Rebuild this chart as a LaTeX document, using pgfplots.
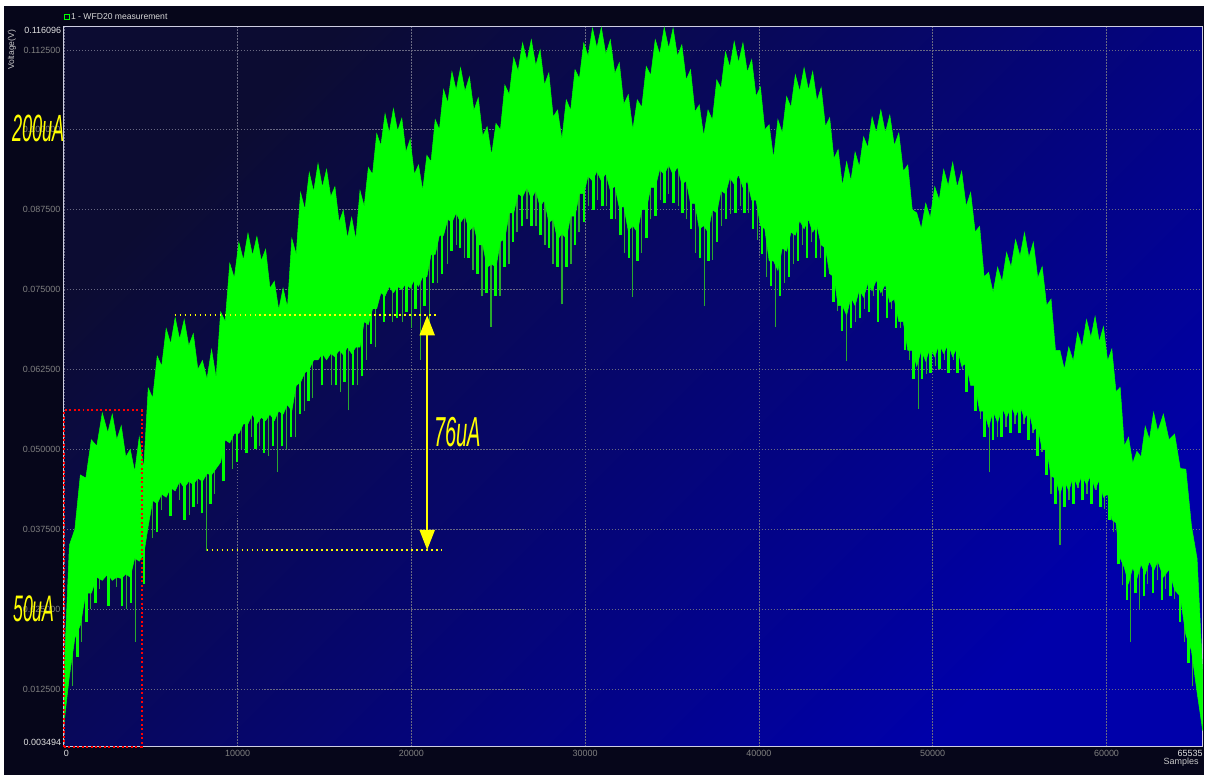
\documentclass[border=0pt]{standalone}
\usepackage{pgfplots}
\pgfplotsset{compat=1.18}
\usepackage{pgfplotstable}
\usetikzlibrary{arrows.meta}
\usepackage{fontspec}
\setmainfont{Liberation Sans}
\definecolor{outerbg}{RGB}{6,6,26}
\definecolor{bgTL}{RGB}{12,12,50}
\definecolor{bgBR}{RGB}{0,0,170}
\definecolor{sigc}{RGB}{0,255,0}
\definecolor{spkc}{RGB}{40,170,45}
\definecolor{gridc}{RGB}{105,105,130}
\definecolor{lbl}{RGB}{128,128,128}
\definecolor{lblw}{RGB}{225,225,225}
\definecolor{yel}{RGB}{255,255,0}
\definecolor{axc}{RGB}{205,205,225}

% signal band: upper edge left to right, then lower edge right to left
\pgfplotstableread{
x y
0 0.0141
316 0.0350
632 0.0375
948 0.0460
1264 0.0455
1580 0.0515
1895 0.0505
2211 0.0557
2527 0.0526
2786 0.0555
3044 0.0515
3303 0.0537
3561 0.0488
3820 0.0500
4078 0.0465
4337 0.0519
4595 0.0470
4854 0.0596
5112 0.0580
5371 0.0646
5629 0.0630
5888 0.0689
6146 0.0665
6405 0.0706
6663 0.0672
6925 0.0703
7187 0.0662
7449 0.0681
7711 0.0625
7974 0.0639
8236 0.0610
8498 0.0656
8760 0.0612
9022 0.0715
9284 0.0700
9546 0.0791
9808 0.0768
10070 0.0824
10332 0.0796
10594 0.0838
10856 0.0803
11107 0.0833
11359 0.0795
11610 0.0813
11861 0.0752
12112 0.0763
12364 0.0718
12615 0.0752
12866 0.0722
13117 0.0830
13369 0.0805
13620 0.0902
13871 0.0875
14122 0.0933
14374 0.0903
14625 0.0947
14876 0.0910
15117 0.0938
15357 0.0895
15598 0.0911
15838 0.0855
16079 0.0874
16319 0.0830
16560 0.0863
16800 0.0828
17041 0.0905
17281 0.0880
17522 0.0941
17762 0.0930
18003 0.0994
18243 0.0975
18484 0.1025
18724 0.0995
18965 0.1033
19205 0.0998
19446 0.1018
19686 0.0965
19927 0.0985
20168 0.0930
20408 0.0945
20649 0.0905
20889 0.0960
21130 0.0950
21370 0.1016
21611 0.1000
21851 0.1063
22092 0.1042
22332 0.1091
22573 0.1062
22828 0.1097
23083 0.1060
23338 0.1083
23593 0.1030
23847 0.1050
24102 0.0990
24357 0.1005
24612 0.0960
24867 0.1010
25122 0.1000
25377 0.1070
25632 0.1055
25886 0.1113
26141 0.1092
26396 0.1136
26651 0.1108
26902 0.1141
27154 0.1100
27405 0.1125
27656 0.1070
27907 0.1089
28159 0.1020
28410 0.1031
28661 0.0985
28912 0.1047
29164 0.1030
29415 0.1094
29666 0.1080
29917 0.1136
30169 0.1115
30420 0.1159
30671 0.1128
30930 0.1160
31188 0.1118
31447 0.1141
31705 0.1088
31964 0.1105
32222 0.1040
32481 0.1055
32739 0.1000
32998 0.1047
33256 0.1035
33515 0.1099
33773 0.1085
34032 0.1141
34290 0.1118
34549 0.1160
34807 0.1127
35058 0.1159
35310 0.1115
35561 0.1133
35812 0.1078
36063 0.1094
36315 0.1028
36566 0.1039
36817 0.0990
37068 0.1031
37320 0.1015
37571 0.1078
37822 0.1065
38073 0.1122
38325 0.1098
38576 0.1138
38827 0.1105
39078 0.1136
39330 0.1090
39581 0.1110
39832 0.1052
40084 0.1067
40335 0.1000
40587 0.1008
40838 0.0955
41089 0.1016
41341 0.0995
41592 0.1052
41843 0.1035
42094 0.1086
42346 0.1060
42597 0.1097
42848 0.1062
43092 0.1091
43336 0.1045
43580 0.1066
43824 0.1005
44069 0.1019
44313 0.0955
44557 0.0969
44801 0.0912
45045 0.0950
45289 0.0920
45533 0.0965
45777 0.0942
46022 0.0989
46266 0.0972
46510 0.1020
46754 0.0995
47013 0.1031
47271 0.0995
47530 0.1023
47788 0.0975
48047 0.0995
48305 0.0935
48564 0.0945
48822 0.0875
49080 0.0870
49339 0.0845
49597 0.0885
49856 0.0862
50114 0.0911
50372 0.0890
50631 0.0938
50889 0.0912
51148 0.0949
51406 0.0910
51665 0.0935
51923 0.0880
52182 0.0902
52440 0.0840
52699 0.0849
52957 0.0770
53216 0.0777
53474 0.0745
53733 0.0785
53991 0.0762
54250 0.0808
54508 0.0785
54767 0.0828
55025 0.0802
55280 0.0839
55535 0.0800
55790 0.0824
56045 0.0768
56299 0.0786
56554 0.0725
56809 0.0735
57064 0.0655
57319 0.0655
57574 0.0625
57829 0.0660
58084 0.0638
58338 0.0683
58593 0.0660
58848 0.0703
59103 0.0675
59344 0.0708
59584 0.0668
59825 0.0692
60065 0.0638
60306 0.0657
60546 0.0590
60787 0.0597
61027 0.0505
61268 0.0519
61508 0.0478
61749 0.0497
61989 0.0488
62230 0.0536
62470 0.0515
62711 0.0558
62951 0.0528
63274 0.0555
63597 0.0515
63920 0.0524
64243 0.0470
64566 0.0469
64889 0.0380
65212 0.0329
65535 0.0150
65535 0.0060
65212 0.0120
64889 0.0185
64566 0.0210
64243 0.0270
63920 0.0280
63597 0.0312
63274 0.0300
62951 0.0325
62711 0.0310
62470 0.0325
62230 0.0305
61989 0.0320
61749 0.0298
61508 0.0315
61268 0.0290
61027 0.0315
60787 0.0330
60546 0.0385
60306 0.0390
60065 0.0430
59825 0.0425
59584 0.0452
59344 0.0438
59103 0.0460
58848 0.0445
58593 0.0460
58338 0.0442
58084 0.0458
57829 0.0435
57574 0.0452
57319 0.0430
57064 0.0455
56809 0.0458
56554 0.0500
56299 0.0500
56045 0.0535
55790 0.0530
55535 0.0560
55280 0.0548
55025 0.0568
54767 0.0552
54508 0.0568
54250 0.0550
53991 0.0565
53733 0.0542
53474 0.0560
53216 0.0535
52957 0.0560
52699 0.0560
52440 0.0600
52182 0.0600
51923 0.0635
51665 0.0630
51406 0.0660
51148 0.0645
50889 0.0665
50631 0.0650
50372 0.0665
50114 0.0645
49856 0.0660
49597 0.0638
49339 0.0655
49080 0.0630
48822 0.0655
48564 0.0655
48305 0.0700
48047 0.0700
47788 0.0735
47530 0.0730
47271 0.0758
47013 0.0745
46754 0.0765
46510 0.0748
46266 0.0760
46022 0.0738
45777 0.0750
45533 0.0725
45289 0.0738
45045 0.0710
44801 0.0725
44557 0.0725
44313 0.0770
44069 0.0775
43824 0.0815
43580 0.0820
43336 0.0850
43092 0.0840
42848 0.0860
42597 0.0845
42346 0.0858
42094 0.0835
41843 0.0840
41592 0.0810
41341 0.0815
41089 0.0780
40838 0.0795
40587 0.0795
40335 0.0845
40084 0.0850
39832 0.0890
39581 0.0890
39330 0.0920
39078 0.0910
38827 0.0930
38576 0.0915
38325 0.0925
38073 0.0900
37822 0.0905
37571 0.0870
37320 0.0875
37068 0.0840
36817 0.0850
36566 0.0845
36315 0.0885
36063 0.0885
35812 0.0920
35561 0.0915
35310 0.0942
35058 0.0930
34807 0.0945
34549 0.0930
34290 0.0938
34032 0.0910
33773 0.0910
33515 0.0875
33256 0.0875
32998 0.0840
32739 0.0850
32481 0.0842
32222 0.0880
31964 0.0878
31705 0.0912
31447 0.0905
31188 0.0932
30930 0.0920
30671 0.0935
30420 0.0920
30169 0.0928
29917 0.0900
29666 0.0900
29415 0.0865
29164 0.0865
28912 0.0830
28661 0.0838
28410 0.0828
28159 0.0860
27907 0.0855
27656 0.0890
27405 0.0880
27154 0.0905
26902 0.0892
26651 0.0910
26396 0.0895
26141 0.0900
25886 0.0870
25632 0.0870
25377 0.0830
25122 0.0825
24867 0.0785
24612 0.0790
24357 0.0785
24102 0.0820
23847 0.0820
23593 0.0850
23338 0.0842
23083 0.0865
22828 0.0855
22573 0.0870
22332 0.0855
22092 0.0860
21851 0.0835
21611 0.0835
21370 0.0805
21130 0.0805
20889 0.0770
20649 0.0770
20408 0.0755
20168 0.0765
19927 0.0752
19686 0.0760
19446 0.0750
19205 0.0755
18965 0.0745
18724 0.0755
18484 0.0740
18243 0.0745
18003 0.0720
17762 0.0720
17522 0.0695
17281 0.0700
17041 0.0660
16800 0.0660
16560 0.0650
16319 0.0660
16079 0.0648
15838 0.0655
15598 0.0645
15357 0.0650
15117 0.0640
14876 0.0650
14625 0.0640
14374 0.0640
14122 0.0625
13871 0.0620
13620 0.0605
13369 0.0600
13117 0.0560
12866 0.0570
12615 0.0555
12364 0.0560
12112 0.0545
11861 0.0555
11610 0.0545
11359 0.0550
11107 0.0540
10856 0.0555
10594 0.0540
10332 0.0540
10070 0.0525
9808 0.0525
9546 0.0510
9284 0.0515
9022 0.0480
8760 0.0470
8498 0.0460
8236 0.0462
7974 0.0450
7711 0.0455
7449 0.0445
7187 0.0450
6925 0.0440
6663 0.0450
6405 0.0435
6146 0.0440
5888 0.0425
5629 0.0430
5371 0.0415
5112 0.0420
4854 0.0380
4595 0.0335
4337 0.0325
4078 0.0330
3820 0.0300
3561 0.0305
3303 0.0298
3044 0.0300
2786 0.0295
2527 0.0305
2211 0.0295
1895 0.0300
1580 0.0275
1264 0.0275
948 0.0225
632 0.0205
316 0.0145
0 0.0070
}\sigpoly

% long thin downward spikes: x and lowest value
\pgfplotstableread{
x y
517 0.0130
1034 0.0199
1551 0.0250
2068 0.0282
3044 0.0285
3619 0.0250
4136 0.0199
5112 0.0361
5629 0.0405
6663 0.0420
7237 0.0397
7697 0.0415
8214 0.0341
8673 0.0430
9707 0.0470
10224 0.0500
10798 0.0520
11258 0.0505
11775 0.0490
12292 0.0464
12808 0.0500
13325 0.0520
13842 0.0560
14302 0.0580
15393 0.0600
15910 0.0590
16370 0.0561
16886 0.0600
17403 0.0640
17920 0.0660
18897 0.0700
19471 0.0700
19988 0.0690
20505 0.0640
21022 0.0700
21481 0.0760
22056 0.0790
22573 0.0820
23032 0.0800
23549 0.0780
24066 0.0740
24583 0.0692
25100 0.0740
25617 0.0790
26076 0.0840
26651 0.0860
27168 0.0850
27685 0.0820
28144 0.0790
28661 0.0727
29178 0.0790
29638 0.0840
30212 0.0880
30729 0.0890
31246 0.0880
31763 0.0860
32280 0.0808
32739 0.0739
33256 0.0808
33773 0.0860
34347 0.0890
34807 0.0900
35381 0.0880
35841 0.0860
36358 0.0808
36875 0.0724
37334 0.0797
37851 0.0850
38368 0.0869
38942 0.0880
39402 0.0870
39919 0.0828
40436 0.0770
40953 0.0692
41470 0.0760
41986 0.0790
42503 0.0820
43020 0.0825
43537 0.0800
44054 0.0774
44514 0.0716
45031 0.0638
45547 0.0700
46064 0.0720
46581 0.0740
47098 0.0740
47615 0.0720
48132 0.0690
48649 0.0640
49166 0.0563
49626 0.0618
50143 0.0630
50659 0.0640
51176 0.0640
51693 0.0625
52210 0.0600
52727 0.0548
53244 0.0464
53704 0.0520
54221 0.0535
54738 0.0540
55254 0.0540
55771 0.0525
56288 0.0496
56805 0.0430
57322 0.0350
57839 0.0420
58356 0.0440
58873 0.0430
59390 0.0437
59907 0.0407
60424 0.0371
60941 0.0287
61400 0.0199
61917 0.0250
62377 0.0290
62951 0.0295
63411 0.0282
63928 0.0266
64502 0.0199
64961 0.0129
}\spkdata

% short wide bright strands under the band: x and lowest value
\pgfplotstableread{
x y
776 0.0175
1292 0.0230
1810 0.0260
2556 0.0255
3331 0.0255
3877 0.0260
4624 0.0290
5370 0.0370
6146 0.0395
6950 0.0390
7467 0.0410
7955 0.0400
8443 0.0415
9190 0.0450
9965 0.0480
10511 0.0495
11028 0.0500
11516 0.0495
12033 0.0505
12550 0.0505
13066 0.0520
13583 0.0555
14072 0.0575
14847 0.0600
15651 0.0600
16140 0.0605
16628 0.0600
17144 0.0615
17661 0.0665
18408 0.0700
19184 0.0705
19729 0.0715
20246 0.0720
20763 0.0725
21251 0.0760
21768 0.0775
22314 0.0810
22802 0.0815
23290 0.0800
23807 0.0775
24324 0.0745
24841 0.0740
25358 0.0785
25846 0.0825
26363 0.0850
26909 0.0850
27426 0.0835
27914 0.0815
28402 0.0785
28919 0.0785
29408 0.0820
29925 0.0855
30470 0.0875
30987 0.0880
31504 0.0860
32021 0.0835
32509 0.0800
32997 0.0795
33514 0.0830
34060 0.0865
34577 0.0885
35094 0.0885
35611 0.0870
36099 0.0845
36616 0.0800
37104 0.0795
37592 0.0825
38109 0.0860
38655 0.0870
39172 0.0870
39660 0.0845
40177 0.0805
40694 0.0755
41211 0.0740
41728 0.0770
42244 0.0795
42761 0.0800
43278 0.0800
43795 0.0770
44284 0.0730
44772 0.0685
45289 0.0690
45805 0.0705
46322 0.0715
46839 0.0700
47356 0.0705
47873 0.0690
48390 0.0655
48907 0.0610
49396 0.0610
49884 0.0620
50401 0.0625
50917 0.0620
51434 0.0620
51951 0.0590
52468 0.0560
52985 0.0520
53474 0.0515
53962 0.0520
54479 0.0525
54996 0.0525
55512 0.0515
56029 0.0490
56546 0.0460
57063 0.0415
57580 0.0410
58097 0.0415
58614 0.0420
59131 0.0415
59648 0.0410
60165 0.0390
60682 0.0320
61170 0.0265
61658 0.0275
62147 0.0270
62664 0.0275
63181 0.0265
63670 0.0270
64215 0.0230
64731 0.0165
}\strdata

\begin{document}
\begin{tikzpicture}[x=1pt,y=1pt]
\fill[white] (0,0) rectangle (1206,776);
\fill[outerbg] (4,0) rectangle (1206,770);
\begin{axis}[
  at={(64pt,28pt)}, anchor=south west,
  scale only axis, width=1141pt, height=721pt,
  xmin=0, xmax=65535, ymin=0.003494, ymax=0.116096,
  axis background/.style={top color=bgTL, bottom color=bgBR, shading angle=45},
  axis line style={draw=axc, line width=1pt},
  scaled x ticks=false, scaled y ticks=false,
  xtick={0,10000,20000,30000,40000,50000,60000,65535},
  xticklabels={\rlap{\textcolor{lblw}{0}},10000,20000,30000,40000,50000,60000,\llap{\textcolor{lblw}{65535}}},
  ytick={0.0125,0.025,0.0375,0.05,0.0625,0.075,0.0875,0.1,0.1125},
  yticklabels={0.012500,0.025000,0.037500,0.050000,0.062500,0.075000,0.087500,0.100000,0.112500},
  major tick length=0pt,
  grid=major,
  grid style={draw=gridc, dash pattern=on 1.5pt off 1.5pt, line width=0.7pt},
  tick label style={font=\fontsize{9}{10}\selectfont, text=lbl},
  clip=false,
]
\addplot[spkc, line width=1.2pt, mark=none, quiver={u=0, v=0.015}] table[x=x,y=y]{\spkdata};
\addplot[sigc, line width=2.5pt, mark=none, quiver={u=0, v=0.008}] table[x=x,y=y]{\strdata};
\addplot[fill=sigc, draw=sigc, line width=0.5pt, mark=none] table[x=x,y=y]{\sigpoly};
% annotations
\draw[red, line width=2pt, dash pattern=on 2pt off 2.5pt] (axis cs:0,0.003494) rectangle (axis cs:4480,0.0561);
\draw[yel, line width=1.8pt, dash pattern=on 1.8pt off 3.2pt] (axis cs:6375,0.07096) -- (axis cs:21424,0.07096);
\draw[yel, line width=1.8pt, dash pattern=on 1.8pt off 3.2pt] (axis cs:8214,0.03426) -- (axis cs:21769,0.03426);
\draw[yel, line width=2pt, {Triangle[width=15pt,length=20pt]}-{Triangle[width=15pt,length=20pt]}] (axis cs:20907,0.03426) -- (axis cs:20907,0.07096);
\end{axis}
% texts around the plot
\node[anchor=north east, inner sep=0pt, text=lblw, font=\fontsize{9}{10}\selectfont] at (61.5,749) {0.116096};
\node[anchor=south east, inner sep=0pt, text=lblw, font=\fontsize{9}{10}\selectfont] at (61.5,29) {0.003494};
\node[rotate=90, inner sep=0pt, text={rgb,255:red,200;green,200;blue,200}, font=\fontsize{8.6}{10}\selectfont] at (12,726) {Voltage(V)};
\draw[sigc, line width=0.8pt] (64.5,756.5) rectangle (69.5,761.5);
\node[anchor=west, inner sep=0pt, text={rgb,255:red,215;green,215;blue,215}, font=\fontsize{8.6}{10}\selectfont] at (71,759) {1 - WFD20 measurement};
\node[anchor=east, inner sep=0pt, text={rgb,255:red,200;green,200;blue,200}, font=\fontsize{9}{10}\selectfont] at (1201,12) {Samples};
\node[anchor=base west, inner sep=0pt, text=yel] at (12,634) {\scalebox{0.48}[1]{\fontsize{38}{38}\selectfont\itshape 200uA}};
\node[anchor=base west, inner sep=0pt, text=yel] at (13,153) {\scalebox{0.48}[1]{\fontsize{37}{37}\selectfont\itshape 50uA}};
\node[anchor=base west, inner sep=0pt, text=yel] at (435,329) {\scalebox{0.48}[1]{\fontsize{42}{42}\selectfont\itshape 76uA}};
\end{tikzpicture}
\end{document}
